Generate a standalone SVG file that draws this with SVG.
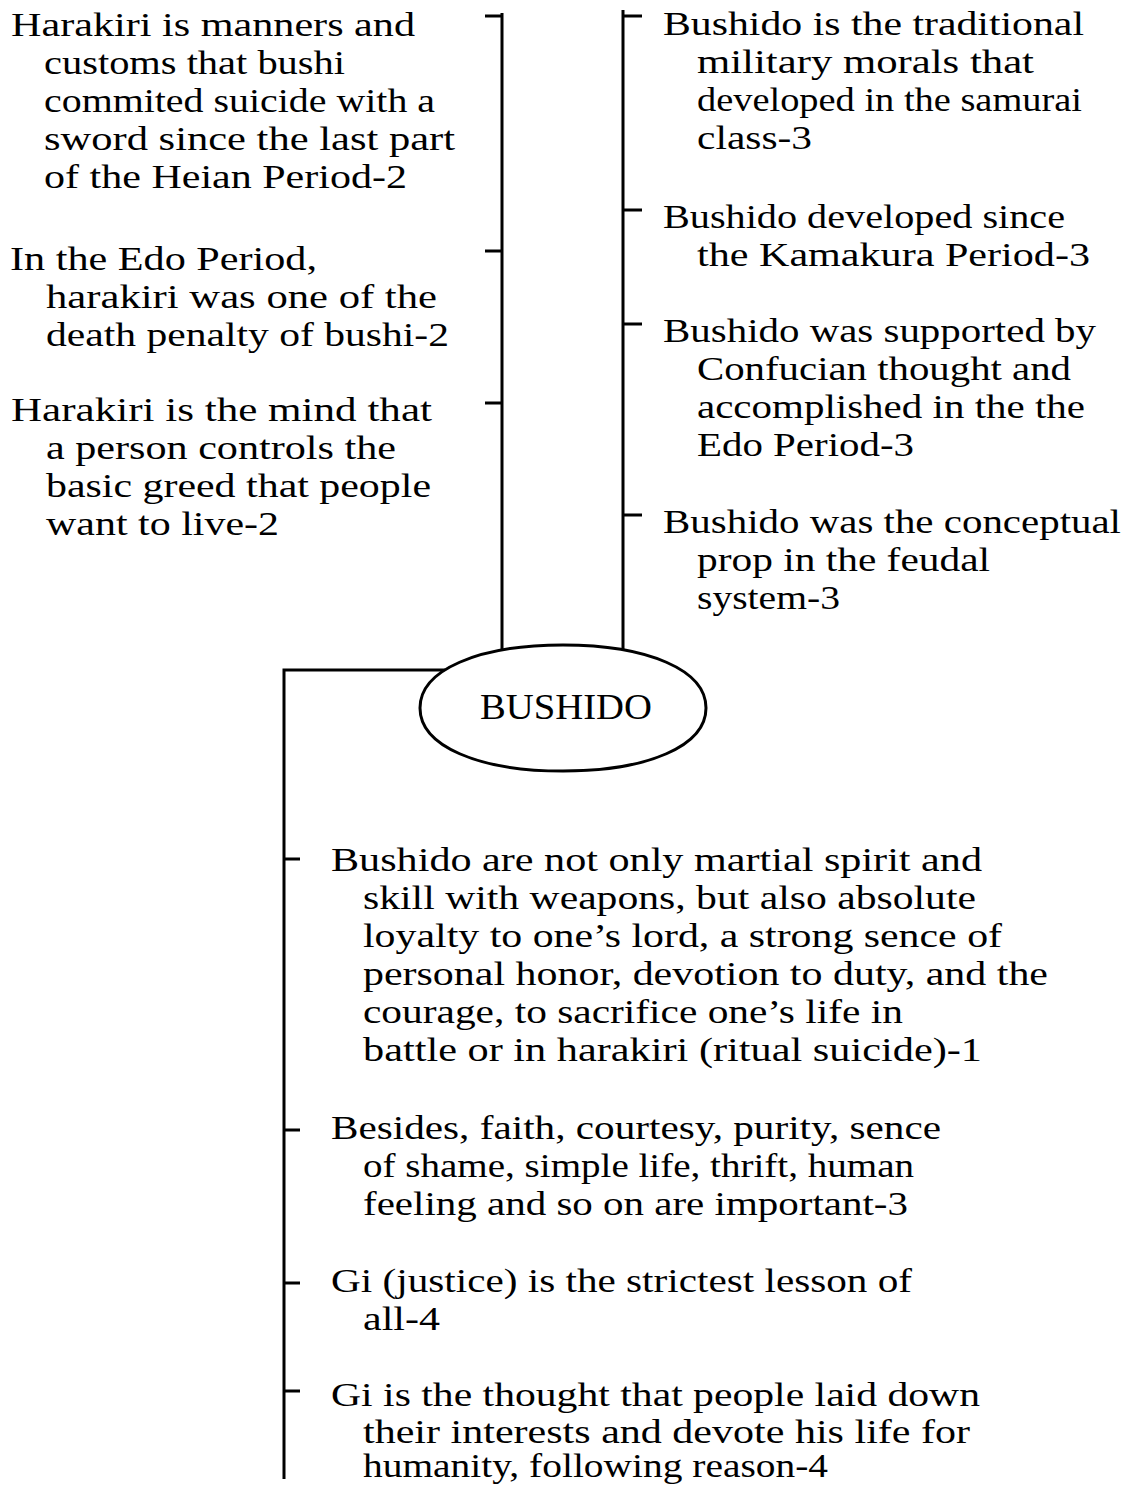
<svg xmlns="http://www.w3.org/2000/svg" width="1133" height="1486" viewBox="0 0 1133 1486">
<style>
text{font-family:"Liberation Serif","Times New Roman",serif;font-size:34px;fill:#000}
.ln{stroke:#000;stroke-width:3;fill:none;stroke-linecap:butt}
.big{font-size:35px}
</style>
<rect width="1133" height="1486" fill="#fff"/>
<g id="connectors">
<path class="ln" d="M502,13 V652"/>
<path class="ln" d="M485,16 H502 M485,251 H502 M485,403 H502"/>
<path class="ln" d="M623,10 V650"/>
<path class="ln" d="M623,16 H642 M623,210 H642 M623,324 H642 M623,515 H642"/>
<path class="ln" d="M284,1479 V670 H445"/>
<path class="ln" d="M284,859 H300 M284,1130 H300 M284,1283 H300 M284,1391 H300"/>
</g>
<g id="bushido">
<path d="M420,708 C420,670 478,645 563,645 C648,645 706,670 706,708 C706,746 648,771 563,771 C478,771 420,746 420,708 Z" fill="#fff" stroke="#000" stroke-width="3"/>
<text class="big" x="480" y="719" textLength="172" lengthAdjust="spacingAndGlyphs">BUSHIDO</text>
</g>
<g id="harakiri1">
<text x="11" y="36" textLength="404" lengthAdjust="spacingAndGlyphs">Harakiri is manners and</text>
<text x="44" y="74" textLength="301" lengthAdjust="spacingAndGlyphs">customs that bushi</text>
<text x="44" y="112" textLength="391" lengthAdjust="spacingAndGlyphs">commited suicide with a</text>
<text x="44" y="150" textLength="411" lengthAdjust="spacingAndGlyphs">sword since the last part</text>
<text x="44" y="188" textLength="363" lengthAdjust="spacingAndGlyphs">of the Heian Period-2</text>
</g>
<g id="harakiri2">
<text x="10" y="270" textLength="307" lengthAdjust="spacingAndGlyphs">In the Edo Period,</text>
<text x="46" y="308" textLength="391" lengthAdjust="spacingAndGlyphs">harakiri was one of the</text>
<text x="46" y="346" textLength="403" lengthAdjust="spacingAndGlyphs">death penalty of bushi-2</text>
</g>
<g id="harakiri3">
<text x="11" y="421" textLength="421" lengthAdjust="spacingAndGlyphs">Harakiri is the mind that</text>
<text x="46" y="459" textLength="350" lengthAdjust="spacingAndGlyphs">a person controls the</text>
<text x="46" y="497" textLength="385" lengthAdjust="spacingAndGlyphs">basic greed that people</text>
<text x="46" y="535" textLength="233" lengthAdjust="spacingAndGlyphs">want to live-2</text>
</g>
<g id="bushido1">
<text x="663" y="35" textLength="421" lengthAdjust="spacingAndGlyphs">Bushido is the traditional</text>
<text x="697" y="73" textLength="337" lengthAdjust="spacingAndGlyphs">military morals that</text>
<text x="697" y="111" textLength="385" lengthAdjust="spacingAndGlyphs">developed in the samurai</text>
<text x="697" y="149" textLength="115" lengthAdjust="spacingAndGlyphs">class-3</text>
</g>
<g id="bushido2">
<text x="663" y="228" textLength="402" lengthAdjust="spacingAndGlyphs">Bushido developed since</text>
<text x="697" y="266" textLength="393" lengthAdjust="spacingAndGlyphs">the Kamakura Period-3</text>
</g>
<g id="bushido3">
<text x="663" y="342" textLength="433" lengthAdjust="spacingAndGlyphs">Bushido was supported by</text>
<text x="697" y="380" textLength="374" lengthAdjust="spacingAndGlyphs">Confucian thought and</text>
<text x="697" y="418" textLength="388" lengthAdjust="spacingAndGlyphs">accomplished in the the</text>
<text x="697" y="456" textLength="217" lengthAdjust="spacingAndGlyphs">Edo Period-3</text>
</g>
<g id="bushido4">
<text x="663" y="533" textLength="458" lengthAdjust="spacingAndGlyphs">Bushido was the conceptual</text>
<text x="697" y="571" textLength="293" lengthAdjust="spacingAndGlyphs">prop in the feudal</text>
<text x="697" y="609" textLength="143" lengthAdjust="spacingAndGlyphs">system-3</text>
</g>
<g id="bushido5">
<text x="331" y="871" textLength="651" lengthAdjust="spacingAndGlyphs">Bushido are not only martial spirit and</text>
<text x="363" y="909" textLength="613" lengthAdjust="spacingAndGlyphs">skill with weapons, but also absolute</text>
<text x="363" y="947" textLength="639" lengthAdjust="spacingAndGlyphs">loyalty to one’s lord, a strong sence of</text>
<text x="363" y="985" textLength="685" lengthAdjust="spacingAndGlyphs">personal honor, devotion to duty, and the</text>
<text x="363" y="1023" textLength="540" lengthAdjust="spacingAndGlyphs">courage, to sacrifice one’s life in</text>
<text x="363" y="1061" textLength="619" lengthAdjust="spacingAndGlyphs">battle or in harakiri (ritual suicide)-1</text>
</g>
<g id="bushido6">
<text x="331" y="1139" textLength="610" lengthAdjust="spacingAndGlyphs">Besides, faith, courtesy, purity, sence</text>
<text x="363" y="1177" textLength="551" lengthAdjust="spacingAndGlyphs">of shame, simple life, thrift, human</text>
<text x="363" y="1215" textLength="545" lengthAdjust="spacingAndGlyphs">feeling and so on are important-3</text>
</g>
<g id="gi1">
<text x="331" y="1292" textLength="581" lengthAdjust="spacingAndGlyphs">Gi (justice) is the strictest lesson of</text>
<text x="363" y="1330" textLength="77" lengthAdjust="spacingAndGlyphs">all-4</text>
</g>
<g id="gi2">
<text x="331" y="1406" textLength="649" lengthAdjust="spacingAndGlyphs">Gi is the thought that people laid down</text>
<text x="363" y="1443" textLength="607" lengthAdjust="spacingAndGlyphs">their interests and devote his life for</text>
<text x="363" y="1477" textLength="465" lengthAdjust="spacingAndGlyphs">humanity, following reason-4</text>
</g>
</svg>
